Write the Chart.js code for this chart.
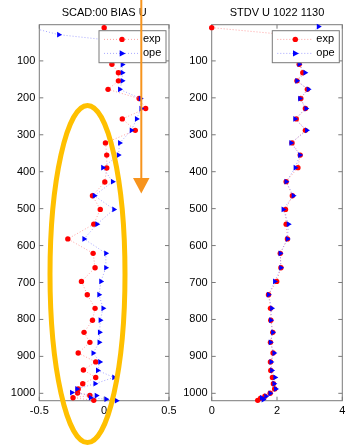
<!DOCTYPE html>
<html>
<head>
<meta charset="utf-8">
<script src="https://cdn.jsdelivr.net/npm/chart.js@4.4.0/dist/chart.umd.min.js"></script>
<style>
  body { margin: 0; background: #fff; }
  #wrap { position: relative; width: 353px; height: 448px; overflow: hidden; }
  canvas { position: absolute; top: 0; }
  #biasChart { left: 0; }
  #stdvChart { left: 176px; }
  svg { position: absolute; left: 0; top: 0; }
</style>
</head>
<body>
<div id="wrap">
  <canvas id="biasChart" width="176" height="448"></canvas>
  <canvas id="stdvChart" width="177" height="448"></canvas>
  <svg width="353" height="448">
    <ellipse cx="87.5" cy="274" rx="37.5" ry="168.5" fill="none" stroke="#FFC000" stroke-width="5"/>
    <line x1="141.3" y1="0" x2="141.3" y2="180" stroke="#F7941D" stroke-width="2"/>
    <polygon points="133,178 149.5,178 141.3,193.5" fill="#F7941D"/>
  </svg>
</div>
<script>
// pression (hPa) et valeurs
const biasExpP = [10, 30, 50, 70, 109, 132, 154, 177, 202, 229, 257, 288, 322, 355, 390, 428, 465, 502, 542, 582, 621, 660, 697, 733, 770, 802, 835, 862, 891, 915, 937, 957, 974, 988, 999, 1006, 1012, 1019];
const biasExpV = [0.0, 0.08, 0.1, 0.07, 0.06, 0.11, 0.11, 0.03, 0.27, 0.32, 0.14, 0.24, 0.01, 0.02, 0.02, 0.005, -0.09, -0.03, -0.08, -0.28, -0.085, -0.07, -0.175, -0.13, -0.07, -0.09, -0.155, -0.11, -0.2, -0.065, -0.16, -0.065, -0.165, -0.2, -0.205, -0.11, -0.24, -0.08];
const biasOpeP = [10, 29, 50, 70, 110, 132, 154, 177, 202, 229, 257, 288, 322, 355, 389, 427, 465, 502, 542, 582, 621, 660, 697, 733, 770, 802, 835, 862, 891, 915, 938, 957, 974, 988, 998, 1006, 1012, 1016, 1020];
const biasOpeV = [-0.56, -0.35, 0.2, 0.16, 0.14, 0.14, 0.14, 0.12, 0.28, 0.285, 0.25, 0.21, 0.12, 0.11, -0.01, 0.065, -0.075, 0.075, -0.055, -0.155, 0.013, 0.013, -0.025, -0.04, -0.008, -0.03, -0.035, -0.038, -0.085, -0.033, -0.05, 0.075, -0.07, -0.21, -0.25, -0.06, -0.105, 0.015, 0.095];

const stdvExpP = [10, 30, 50, 70, 109, 132, 154, 177, 202, 229, 257, 288, 322, 355, 389, 427, 465, 502, 542, 582, 621, 660, 697, 733, 770, 802, 835, 862, 891, 915, 938, 957, 974, 988, 1000, 1008, 1013, 1019];
const stdvExpV = [0.0, 2.4, 2.6, 2.7, 2.68, 2.79, 2.61, 2.93, 2.73, 2.87, 2.59, 2.87, 2.46, 2.71, 2.64, 2.28, 2.47, 2.26, 2.28, 2.32, 2.10, 2.12, 1.99, 1.74, 1.80, 1.81, 1.87, 1.80, 1.88, 1.80, 1.81, 1.86, 1.89, 1.93, 1.79, 1.63, 1.50, 1.41];
const stdvOpeP = [7, 30, 50, 70, 109, 132, 154, 177, 202, 229, 257, 288, 322, 355, 389, 427, 465, 502, 542, 582, 621, 660, 697, 733, 770, 802, 835, 862, 891, 915, 938, 957, 974, 988, 1000, 1008, 1012, 1017];
const stdvOpeV = [3.27, 3.0, 2.8, 2.7, 2.68, 2.86, 2.61, 2.96, 2.70, 2.89, 2.55, 2.91, 2.43, 2.70, 2.56, 2.28, 2.50, 2.19, 2.35, 2.32, 2.10, 2.12, 1.93, 1.74, 1.84, 1.81, 1.87, 1.80, 1.91, 1.82, 1.84, 1.94, 1.91, 1.96, 1.79, 1.66, 1.53, 1.58];

const yTicks = [100, 200, 300, 400, 500, 600, 700, 800, 900, 1000];
const biasXTicks = [-0.5, 0, 0.5];
const stdvXTicks = [0, 2, 4];
const seriesNames = ['exp', 'ope'];

const FONT = 'Liberation Sans, Arial, Helvetica, sans-serif';
const frameColor = '#7a7a7a';

function toPoints(p, v) {
  return p.map((pp, i) => ({ x: v[i], y: pp }));
}

// cadre type matlab avec ticks vers l'intérieur + légende dans le cadre
const matlabFrame = {
  id: 'matlabFrame',
  beforeDatasetsDraw(chart) {
    const { ctx, chartArea: a, scales } = chart;
    ctx.save();
    ctx.strokeStyle = frameColor;
    ctx.lineWidth = 1;
    ctx.strokeRect(a.left, a.top, a.right - a.left, a.bottom - a.top);
    ctx.beginPath();
    scales.y.ticks.forEach(t => {
      const y = scales.y.getPixelForValue(t.value);
      ctx.moveTo(a.left, y); ctx.lineTo(a.left + 4, y);
      ctx.moveTo(a.right, y); ctx.lineTo(a.right - 4, y);
    });
    scales.x.ticks.forEach(t => {
      const x = scales.x.getPixelForValue(t.value);
      ctx.moveTo(x, a.bottom); ctx.lineTo(x, a.bottom - 4);
      ctx.moveTo(x, a.top); ctx.lineTo(x, a.top + 4);
    });
    ctx.stroke();
    ctx.restore();
  },
  afterDatasetsDraw(chart) {
    const { ctx, chartArea: a } = chart;
    const w = 67, h = 32;
    const left = a.right - 3 - w, top = a.top + 6;
    ctx.save();
    ctx.fillStyle = '#fff';
    ctx.fillRect(left, top, w, h);
    ctx.strokeStyle = frameColor;
    ctx.lineWidth = 1;
    ctx.strokeRect(left, top, w, h);
    chart.data.datasets.forEach((ds, i) => {
      const y = top + 8.7 + i * 14;
      ctx.setLineDash([1, 2]);
      ctx.strokeStyle = ds.borderColor;
      ctx.beginPath();
      ctx.moveTo(left + 5, y); ctx.lineTo(left + 40, y);
      ctx.stroke();
      ctx.setLineDash([]);
      ctx.fillStyle = ds.pointBackgroundColor;
      const mx = left + 23;
      ctx.beginPath();
      if (ds.pointStyle === 'circle') {
        ctx.arc(mx, y, ds.pointRadius, 0, Math.PI * 2);
      } else {
        const r = ds.pointRadius;
        ctx.moveTo(mx + r * 1.1, y);
        ctx.lineTo(mx - r * 0.7, y - r * 0.95);
        ctx.lineTo(mx - r * 0.7, y + r * 0.95);
        ctx.closePath();
      }
      ctx.fill();
      ctx.fillStyle = '#000';
      ctx.font = '11px ' + FONT;
      ctx.textAlign = 'left';
      ctx.textBaseline = 'middle';
      ctx.fillText(ds.label, left + 44, y);
    });
    ctx.restore();
  }
};

function makeChart(id, title, expPts, opePts, xMin, xMax, xTicks, axisWidth, padRight) {
  return new Chart(document.getElementById(id), {
    type: 'scatter',
    data: {
      datasets: [{
        label: seriesNames[0],
        data: expPts,
        showLine: true,
        borderColor: 'rgba(255,90,90,0.55)',
        borderWidth: 1,
        borderDash: [1, 2],
        pointStyle: 'circle',
        pointRadius: 2.7,
        pointBackgroundColor: '#ff0000',
        pointBorderWidth: 0,
        clip: false,
        order: 2
      }, {
        label: seriesNames[1],
        data: opePts,
        showLine: true,
        borderColor: 'rgba(110,110,255,0.6)',
        borderWidth: 1,
        borderDash: [1, 2],
        pointStyle: 'triangle',
        pointRotation: 90,
        pointRadius: 3.3,
        pointBackgroundColor: '#0000ff',
        pointBorderWidth: 0,
        clip: { left: 0, top: 6, right: 6, bottom: 6 },
        order: 1
      }]
    },
    options: {
      responsive: false,
      animation: false,
      devicePixelRatio: 1,
      layout: { padding: { right: padRight, top: 0, bottom: 0, left: 0 } },
      plugins: {
        legend: { display: false },
        tooltip: { enabled: false },
        title: {
          display: true,
          text: title,
          fullSize: false,
          color: '#000',
          font: { family: FONT, size: 11, weight: 'normal' },
          padding: { top: 6.5, bottom: 5 }
        }
      },
      scales: {
        x: {
          type: 'linear',
          min: xMin,
          max: xMax,
          grid: { display: false, drawTicks: false },
          border: { display: false },
          ticks: { color: '#000', font: { family: FONT, size: 11 }, padding: 4, callback: v => String(v) },
          afterBuildTicks: s => { s.ticks = xTicks.map(v => ({ value: v })); },
          afterFit: s => { s.height = 47.3; s.paddingLeft = 0; s.paddingRight = 0; }
        },
        y: {
          type: 'linear',
          reverse: true,
          min: 2,
          max: 1020,
          grid: { display: false, drawTicks: false },
          border: { display: false },
          ticks: { color: '#000', font: { family: FONT, size: 11 }, padding: 4, callback: v => String(v) },
          afterBuildTicks: s => { s.ticks = yTicks.map(v => ({ value: v })); },
          afterFit: s => { s.width = axisWidth; s.paddingTop = 0; s.paddingBottom = 0; }
        }
      }
    },
    plugins: [matlabFrame]
  });
}

makeChart('biasChart', 'SCAD:00 BIAS U', toPoints(biasExpP, biasExpV), toPoints(biasOpeP, biasOpeV), -0.5, 0.5, biasXTicks, 39.3, 7);
makeChart('stdvChart', 'STDV U 1022 1130', toPoints(stdvExpP, stdvExpV), toPoints(stdvOpeP, stdvOpeV), 0, 4, stdvXTicks, 35.7, 10.7);
</script>
</body>
</html>
